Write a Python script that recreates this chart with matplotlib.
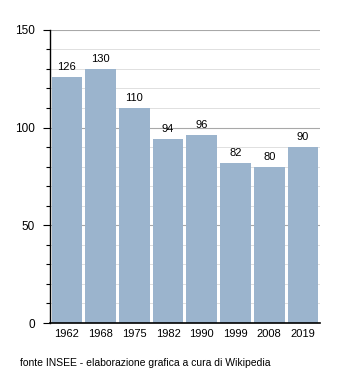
import matplotlib
matplotlib.use("Agg")
import matplotlib.pyplot as plt
from matplotlib.ticker import MultipleLocator

years = ["1962", "1968", "1975", "1982", "1990", "1999", "2008", "2019"]
population = [126, 130, 110, 94, 96, 82, 80, 90]

plt.rcParams['font.family'] = ['Liberation Sans', 'DejaVu Sans']

fig = plt.figure(figsize=(3.5, 3.73), dpi=100)
ax = fig.add_axes([0.143, 0.134, 0.771, 0.786])

x = range(len(years))
ax.bar(x, population, width=0.91, color="#9bb4cd", zorder=2)
for xi, v in zip(x, population):
    ax.text(xi, v + 2.5, str(v), ha="center", va="bottom", fontsize=8, zorder=3)

ax.set_xlim(-0.5, len(years) - 0.5)
ax.set_ylim(0, 150)
ax.set_xticks(list(x))
ax.set_xticklabels(years, fontsize=8)
ax.tick_params(axis="x", length=0, pad=4)
ax.yaxis.set_major_locator(MultipleLocator(50))
ax.yaxis.set_minor_locator(MultipleLocator(10))
ax.tick_params(axis="y", which="major", length=5, width=0.8, labelsize=8.5, pad=6)
ax.tick_params(axis="y", which="minor", length=3, width=0.8)

ax.grid(axis="y", which="minor", color="#e0e0e0", linewidth=0.7, zorder=0)
ax.grid(axis="y", which="major", color="#a8a8a8", linewidth=0.8, zorder=1)
for side in ("top", "right"):
    ax.spines[side].set_visible(False)
ax.spines["left"].set_linewidth(1.0)
ax.spines["bottom"].set_linewidth(1.2)

fig.text(0.057, 0.019, "fonte INSEE - elaborazione grafica a cura di Wikipedia",
         fontsize=7.5, va="baseline")

fig.savefig("out.png", dpi=100)
